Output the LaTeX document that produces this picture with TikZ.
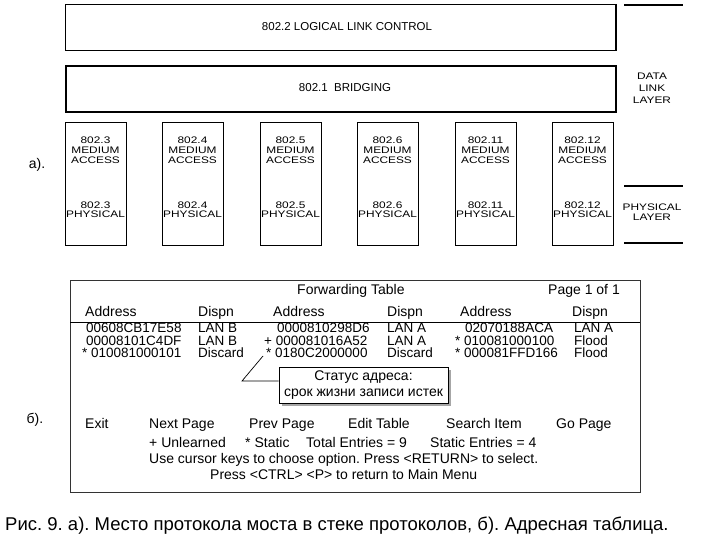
\documentclass[tikz,border=0pt]{standalone}
\usepackage{fontspec}
\setmainfont{Liberation Sans}
\usepackage{graphicx}
\usetikzlibrary{shadows}
\frenchspacing
\newcommand{\stk}[1]{\scalebox{1.25}[1]{\begin{tabular}{@{}c@{}}#1\end{tabular}}}
\begin{document}
\begin{tikzpicture}[x=1pt,y=-1pt,
  layerbox/.style={draw, inner sep=0, anchor=north west},
  toplbl/.style={font=\fontsize{11.5}{12}\selectfont, inner sep=0},
  smlbl/.style={font=\fontsize{9.5}{10}\selectfont, inner sep=0},
  tt/.style={font=\fontsize{14}{14}\selectfont, inner sep=0, anchor=base west},
  tr/.style={font=\fontsize{13.5}{13.5}\selectfont, inner sep=0, anchor=base west},
  rule/.style={line width=1.8pt}]
\useasboundingbox (0,0) rectangle (720,540);

% ---- part a) ----
\node[layerbox, line width=1pt, minimum width=550, minimum height=46] (llc) at (65,4) {};
\draw[line width=1.8pt] (llc.north east) -- (llc.south east);
\node[toplbl] (llct) at (347,27) {802.2 LOGICAL LINK CONTROL};

\node[layerbox, line width=2.2pt, minimum width=550, minimum height=46] (brg) at (65,65) {};
\node[toplbl] (brgt) at (345,88) {802.1 \ BRIDGING};

\foreach \i/\xx/\nm in {1/65/802.3, 2/162/802.4, 3/260/802.5, 4/357/802.6, 5/455/802.11, 6/552/802.12} {
  \node[layerbox, line width=1.4pt, minimum width=61, minimum height=123] (m\i) at (\xx,122) {};
  \node[smlbl] (m\i a) at (\xx+30.5,152) {\stk{\nm\\MEDIUM\\ACCESS}};
  \node[smlbl] (m\i p) at (\xx+30.5,211) {\stk{\nm\\PHYSICAL}};
}

\coordinate (r1a) at (624,5); \coordinate (r1b) at (683,5);
\draw[line width=1.3pt] (r1a) -- (r1b);
\node[smlbl] (dll) at (652,90) {\stk{DATA\\[2pt]LINK\\[2pt]LAYER}};
\coordinate (r2a) at (624,186); \coordinate (r2b) at (683,186);
\coordinate (r3a) at (624,243); \coordinate (r3b) at (683,243);
\draw[rule] (r2a) -- (r2b);
\draw[rule] (r3a) -- (r3b);
\node[smlbl] (phl) at (652,213.5) {\stk{PHYSICAL\\LAYER}};

\node[font=\fontsize{14}{14}\selectfont, inner sep=0] (la) at (37,165) {а).};

% ---- part b) ----
\node[layerbox, line width=0.9pt, draw=black!80, minimum width=570, minimum height=212] (tab) at (70,280) {};
\coordinate (sepl) at (70,322); \coordinate (sepr) at (640,322);
\draw[line width=0.9pt] (sepl) -- (sepr);

\node[tt] (title) at (297,294) {Forwarding Table};
\node[tt] (page) at (548,294) {Page 1 of 1};

\node[tt] (h1) at (85,316) {Address};
\node[tt] (h2) at (198,316) {Dispn};
\node[tt] (h3) at (273,316) {Address};
\node[tt] (h4) at (387,316) {Dispn};
\node[tt] (h5) at (460,316) {Address};
\node[tt] (h6) at (572,316) {Dispn};

\node[tr] (a1) at (86,332.5) {00608CB17E58};
\node[tr] (a2) at (86,345) {00008101C4DF};
\node[tr] (a3) at (82,357.5) {* 010081000101};
\node[tr] (b1) at (198,332.5) {LAN B};
\node[tr] (b2) at (198,345) {LAN B};
\node[tr] (b3) at (198,357.5) {Discard};
\node[tr] (c1) at (277,332.5) {0000810298D6};
\node[tr] (c2) at (264,345) {+ 000081016A52};
\node[tr] (c3) at (266,357.5) {* 0180C2000000};
\node[tr] (d1) at (387,332.5) {LAN A};
\node[tr] (d2) at (387,345) {LAN A};
\node[tr] (d3) at (387,357.5) {Discard};
\node[tr] (e1) at (465,332.5) {02070188ACA};
\node[tr] (e2) at (455,345) {* 010081000100};
\node[tr] (e3) at (455,357.5) {* 000081FFD166};
\node[tr] (f1) at (574,332.5) {LAN A};
\node[tr] (f2) at (574,345) {Flood};
\node[tr] (f3) at (574,357.5) {Flood};

\node[draw, fill=white, line width=0.8pt,
      drop shadow={shadow xshift=3pt, shadow yshift=-3pt, fill=gray!70, opacity=1},
      minimum width=169, minimum height=36, inner sep=0, align=center,
      font=\fontsize{14}{16}\selectfont] (call) at (363.5,385)
      {Статус адреса:\\срок жизни записи истек};
\coordinate (tip) at (263,356);
\coordinate (kink) at (242,381);
\draw[line width=0.7pt] (tip) -- (kink) -- (kink -| call.west);

\node[tt] (x1) at (85,428) {Exit};
\node[tt] (x2) at (149,428) {Next Page};
\node[tt] (x3) at (249,428) {Prev Page};
\node[tt] (x4) at (348,428) {Edit Table};
\node[tt] (x5) at (446,428) {Search Item};
\node[tt] (x6) at (556,428) {Go Page};

\node[tt] (s1) at (149,447) {+ Unlearned};
\node[tt] (s2) at (245,447) {* Static};
\node[tt] (s3) at (306,447) {Total Entries = 9};
\node[tt] (s4) at (430,447) {Static Entries = 4};
\node[tt] (u1) at (149,463) {Use cursor keys to choose option. Press <RETURN> to select.};
\node[tt] (u2) at (210,479) {Press <CTRL> <P> to return to Main Menu};

\node[font=\fontsize{14}{14}\selectfont, inner sep=0] (lb) at (35,420) {б).};

\node[font=\fontsize{18.5}{20}\selectfont, anchor=base west, inner sep=0] (cap) at (5,530)
  {Рис. 9. а). Место протокола моста в стеке протоколов, б). Адресная таблица.};
\end{tikzpicture}
\end{document}
